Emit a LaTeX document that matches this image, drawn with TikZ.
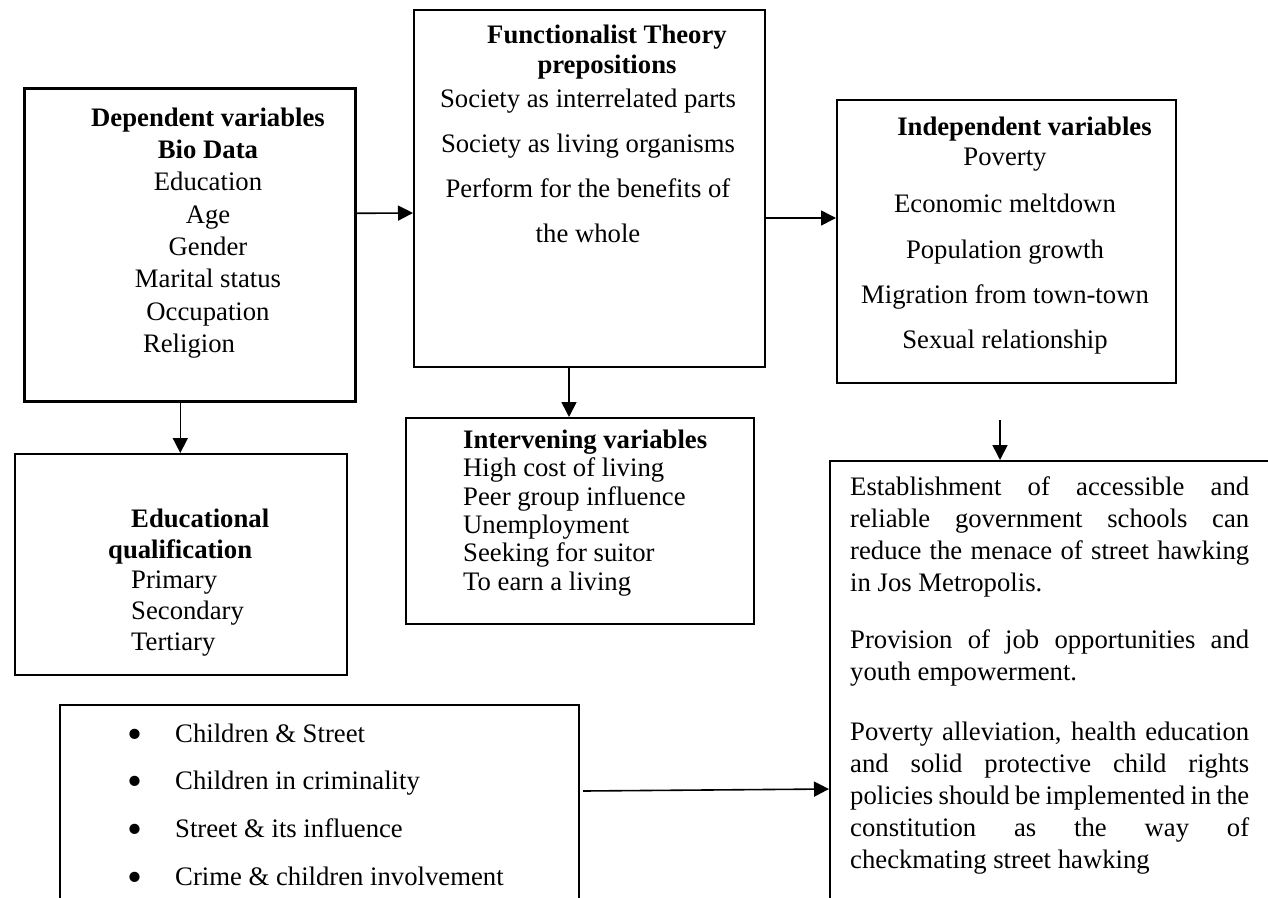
\documentclass[tikz,border=0pt]{standalone}
\usepackage{fontspec}
\setmainfont{Liberation Serif}
\usepackage{graphicx}
\usepackage{tikz}
\usetikzlibrary{calc,arrows.meta}
\setlength{\parindent}{0pt}
\newcommand{\bigbul}{\makebox[48pt][l]{\raisebox{-6pt}{\scalebox{1.6}{\textbullet}}}}

\begin{document}
\begin{tikzpicture}[x=1pt,y=-1pt]
% Box style
\tikzset{
    box/.style={draw, line width=2pt, anchor=north west, inner sep=0pt},
    txt/.style={inner sep=0pt, font=\fontsize{26.7}{32.3}\selectfont},
    arr/.style={line width=1.6pt, -{Triangle[length=15pt,width=15pt]}}
}
\useasboundingbox (0,0) rectangle (1268,897);
% Boxes
\node[box, line width=2.6pt, minimum width=331pt, minimum height=313pt] (dep) at (23,87){};
\node[box, minimum width=351pt, minimum height=357pt] (func) at (413,9){};
\node[box, minimum width=348pt, minimum height=206pt] (int) at (405,417){};
\node[box, minimum width=339pt, minimum height=283pt] (ind) at (836,99){};
\node[box, minimum width=332pt, minimum height=221pt] (edu) at (14,453){};
\node[box, minimum width=519pt, minimum height=215pt] (bul) at (59,704){};
\node[box, minimum width=470pt, minimum height=460pt] (pol) at (829,460){};
% Texts
\node[txt, anchor=north, align=center] (depT) at (208,107.5){\textbf{Dependent variables}\\\textbf{Bio Data}\\Education\\Age\\Gender\\Marital status\\Occupation\\Religion\hspace*{38pt}};
\node[txt, anchor=north, align=center, font=\fontsize{26.7}{32}\selectfont] (funcT) at (588,24.5){\hspace*{38pt}\textbf{Functionalist Theory}\\[-2pt]\hspace*{38pt}\textbf{prepositions}\\[2pt]Society as interrelated parts\\[13pt]Society as living organisms\\[13pt]Perform for the benefits of\\[13pt]the whole};
\node[txt, anchor=north, align=center, font=\fontsize{26.7}{32}\selectfont] (indT) at (1005,116.5){\hspace*{39pt}\textbf{Independent variables}\\[-2pt]Poverty\\[15pt]Economic meltdown\\[14pt]Population growth\\[13pt]Migration from town-town\\[13pt]Sexual relationship};
\node[txt, anchor=north west, align=left, font=\fontsize{26.7}{28.4}\selectfont] (intT) at (463,429.5){\textbf{Intervening variables}\\High cost of living\\Peer group influence\\Unemployment\\Seeking for suitor\\To earn a living};
\node[txt, anchor=north west, align=left, font=\fontsize{26.7}{30.8}\selectfont] (eduT) at (108,508.5){\hspace*{23pt}\textbf{Educational}\\\textbf{qualification}\\\hspace*{23pt}Primary\\\hspace*{23pt}Secondary\\\hspace*{23pt}Tertiary};
\node[txt, anchor=north west, align=left, font=\fontsize{26.7}{47.7}\selectfont] (bulT) at (127,723.5){\bigbul Children \& Street\\\bigbul Children in criminality\\\bigbul Street \& its influence\\\bigbul Crime \& children involvement};
\node[txt, anchor=north west, text width=399pt, align=justify, font=\fontsize{26.7}{32}\selectfont] (polT) at (850,476.5){Establishment of accessible and\linebreak reliable government schools can\linebreak reduce the menace of street hawking\linebreak in Jos Metropolis.\\[25pt]Provision of job opportunities and\linebreak youth empowerment.\\[28pt]Poverty alleviation, health education\linebreak and solid protective child rights\linebreak policies should be implemented in the\linebreak constitution as the way of\linebreak checkmating street hawking};
% Connection
\draw[arr] ([yshift=31.5pt]dep.east) -- ([yshift=-24.5pt]func.west);
\draw[arr] ([xshift=-9.5pt]dep.south) coordinate (b) -- (b |- edu.north);
\draw[arr] ([xshift=-20.5pt]func.south) coordinate (c) -- (c |- int.north);
\draw[arr] ([yshift=-29.5pt]func.east) coordinate (d) -- (d -| ind.west);
\draw[arr] ([xshift=-6.5pt,yshift=-36pt]ind.south) coordinate (e) -- (e |- pol.north);
\draw[arr] ([xshift=3pt,yshift=-87pt]bul.north east) -- ([yshift=-329pt]pol.north west);
\end{tikzpicture}
\end{document}
